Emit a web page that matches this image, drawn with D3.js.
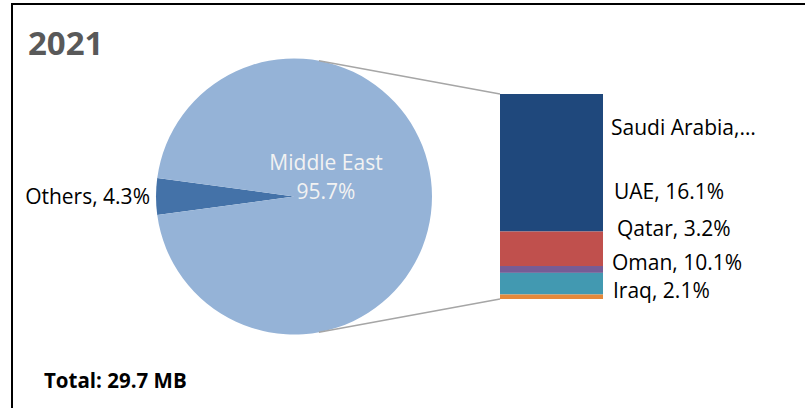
<!DOCTYPE html>
<html>
<head>
<meta charset="utf-8">
<script src="https://cdn.jsdelivr.net/npm/d3@7"></script>
<style>
  body { margin: 0; background: #fff; }
  svg { display: block; }
  text { font-family: "Open Sans", sans-serif; }
</style>
</head>
<body>
<svg id="chart" width="805" height="408"></svg>
<script>
// Share of 2021 volume by region, with the Middle East broken out by country
const year = "2021";
const totalLabel = "Total: 29.7 MB";

const pieCategories = ["Others", "Middle East"];
const pieValues = [4.3, 95.7];
const pieColors = ["#4472A8", "#95B3D7"];

const barCategories = ["Saudi Arabia", "UAE", "Qatar", "Oman", "Iraq"];
const barValues = [64.2, 16.1, 3.2, 10.1, 2.1];
const barColors = ["#1F487C", "#C0504D", "#775C95", "#4299B1", "#E4893B"];
const barLabels = ["Saudi Arabia,…", "UAE, 16.1%", "Qatar, 3.2%", "Oman, 10.1%", "Iraq, 2.1%"];

const labelSize = 21;
const svg = d3.select("#chart");

// frame: left and top rules only
svg.append("path")
  .attr("d", "M12,408 V4 H805")
  .attr("fill", "none")
  .attr("stroke", "#000")
  .attr("stroke-width", 2);

svg.append("text")
  .attr("x", 28).attr("y", 55)
  .attr("font-size", 33).attr("font-weight", 700)
  .attr("fill", "#595959")
  .text(year);

svg.append("text")
  .attr("x", 44).attr("y", 388)
  .attr("font-size", 20.5).attr("font-weight", 700)
  .attr("fill", "#000")
  .text(totalLabel);

// ---- pie ----
const cx = 294, cy = 196.5, r = 138;
const othersShare = pieValues[0] / d3.sum(pieValues);
const start = 1.5 * Math.PI - othersShare * Math.PI; // centre the small slice on the left
const pie = d3.pie().sort(null).startAngle(start).endAngle(start + 2 * Math.PI);
const arcs = pie(pieValues);
const arc = d3.arc().innerRadius(0).outerRadius(r);

const gPie = svg.append("g").attr("transform", `translate(${cx},${cy})`);
gPie.selectAll("path")
  .data(arcs)
  .join("path")
  .attr("d", arc)
  .attr("fill", (d, i) => pieColors[i]);

// Others label, left of the pie
svg.append("text")
  .attr("x", cx - r - 6).attr("y", cy + 7)
  .attr("text-anchor", "end")
  .attr("font-size", labelSize)
  .attr("fill", "#000")
  .text(`${pieCategories[0]}, ${pieValues[0].toFixed(1)}%`);

// Middle East label inside the pie
const meLabel = svg.append("text")
  .attr("text-anchor", "middle")
  .attr("font-size", labelSize)
  .attr("fill", "#F2F2F2");
meLabel.append("tspan").attr("x", cx + 32).attr("y", cy - 26.5).text(pieCategories[1]);
meLabel.append("tspan").attr("x", cx + 32).attr("y", cy + 2.5).text(`${pieValues[1].toFixed(1)}%`);

// ---- stacked bar breaking out the Middle East slice ----
const barX0 = 500, barX1 = 603, barTop = 94, barBottom = 299;
const y = d3.scaleLinear().domain([0, d3.sum(barValues)]).range([barTop, barBottom]);
const cum = d3.cumsum(barValues);
const segs = barValues.map((v, i) => ({ v, i, y0: cum[i] - v, y1: cum[i] }));

// connector lines: tangents from the bar corners to the pie
function tangentPoint(px, py, upper) {
  const dx = px - cx, dy = py - cy;
  const d = Math.hypot(dx, dy);
  const base = Math.atan2(dy, dx);
  const off = Math.acos(r / d);
  const a = upper ? base - off : base + off;
  return [cx + r * Math.cos(a), cy + r * Math.sin(a)];
}
const tTop = tangentPoint(barX0, y(0), true);
const tBot = tangentPoint(barX0, y(d3.sum(barValues)), false);
svg.append("line")
  .attr("x1", tTop[0]).attr("y1", tTop[1]).attr("x2", barX0).attr("y2", y(0))
  .attr("stroke", "#A6A6A6").attr("stroke-width", 1.5);
svg.append("line")
  .attr("x1", tBot[0]).attr("y1", tBot[1]).attr("x2", barX0).attr("y2", y(d3.sum(barValues)))
  .attr("stroke", "#A6A6A6").attr("stroke-width", 1.5);

svg.append("g").selectAll("rect")
  .data(segs)
  .join("rect")
  .attr("x", barX0)
  .attr("width", barX1 - barX0)
  .attr("y", d => y(d.y0))
  .attr("height", d => y(d.y1) - y(d.y0))
  .attr("fill", d => barColors[d.i]);

// data labels beside the bar (baseline positions as laid out to avoid overlap)
const labelBaselines = [135, 199, 236, 270, 298];
const labelIndent = [0, 3, 6, 1, 2];
svg.append("g").selectAll("text")
  .data(barLabels)
  .join("text")
  .attr("x", (d, i) => barX1 + 8 + labelIndent[i])
  .attr("y", (d, i) => labelBaselines[i])
  .attr("font-size", labelSize)
  .attr("fill", "#000")
  .text(d => d);
</script>
</body>
</html>
